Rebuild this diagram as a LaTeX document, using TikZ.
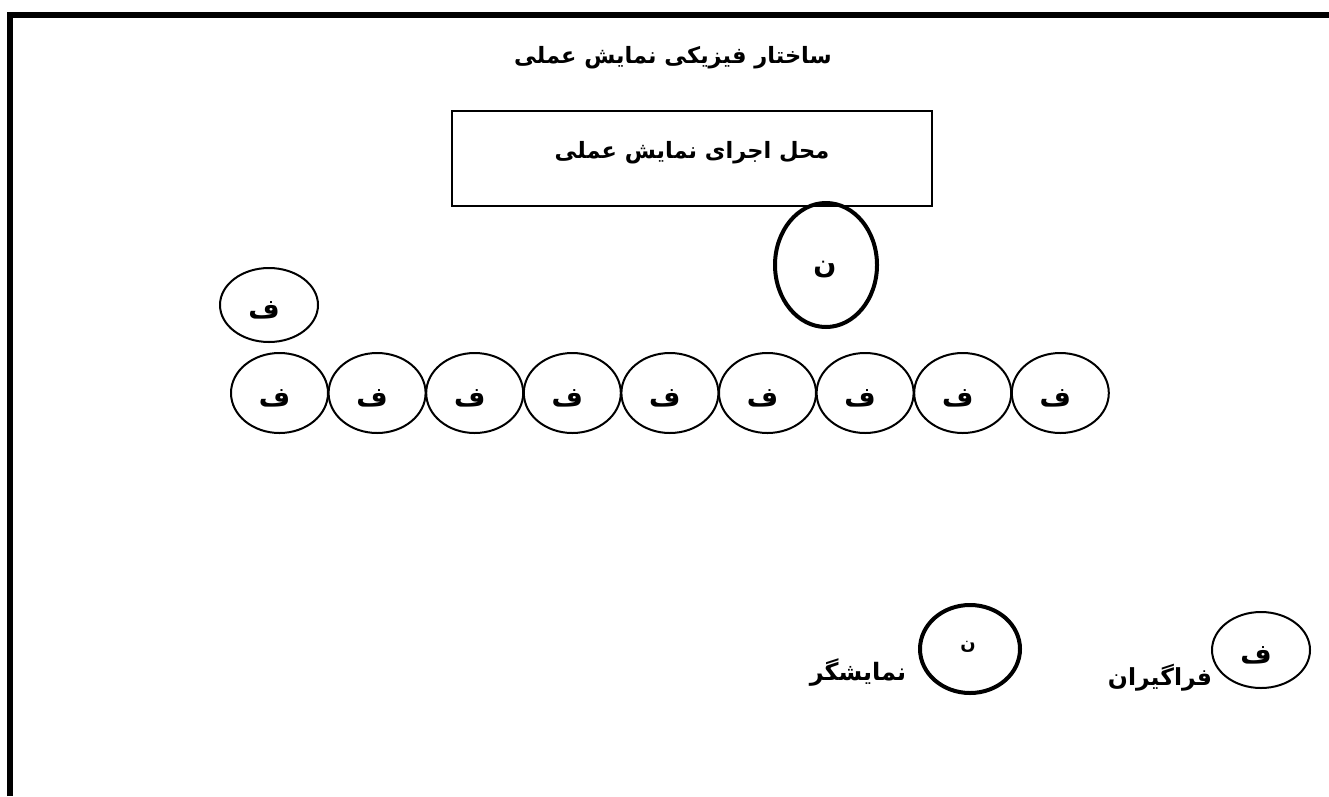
\documentclass[tikz,border=0pt]{standalone}
\usepackage{fontspec}
\TeXXeTstate=1
\newfontfamily\arabicfont[Script=Arabic]{DejaVu Sans}
\usetikzlibrary{shapes.geometric}
\tikzset{
  fa/.style={font=\arabicfont\bfseries\fontsize{22.5}{27}\selectfont, inner sep=0pt},
  letter/.style={font=\arabicfont\bfseries\fontsize{27}{32}\selectfont, inner sep=0pt},
  pupil/.style={ellipse, draw, line width=2pt, minimum width=97pt, minimum height=80pt, inner sep=0pt},
  teacher/.style={ellipse, draw, line width=4pt, inner sep=0pt},
  frameline/.style={line width=6pt, line join=miter},
  stagebox/.style={draw, line width=1.3pt, minimum width=480pt, minimum height=95pt}
}
\begin{document}
\begin{tikzpicture}[x=1pt,y=-1pt]
\useasboundingbox (0,0) rectangle (1329,796);
\coordinate (fb) at (10,796);
\coordinate (fc) at (10,15);
\coordinate (fr) at (1329,15);
\draw[frameline] (fb) -- (fc) -- (fr);
\node[fa] (title) at (673,58) {\beginR ساختار فیزیکی نمایش عملی\endR};
\node[stagebox] (stage) at (692,158.5) {};
\node[fa] (stagetxt) at (692,153) {\beginR محل اجرای نمایش عملی\endR};
\node[teacher, minimum width=102pt, minimum height=124pt] (t1) at (826,265) {};
\node[letter] (t1l) at (825,270) {\beginR ن\endR};
\node[pupil, minimum width=98pt, minimum height=74pt] (p0) at (269,305) {};
\node[letter] (p0l) at (264,310) {\beginR ف\endR};
\foreach \i in {0,...,8} {
  \node[pupil] (r\i) at ({279.5+97.6*\i},393) {};
  \node[letter] (r\i l) at ({274.5+97.6*\i},398) {\beginR ف\endR};
}
\node[teacher, minimum width=100pt, minimum height=88pt] (t2) at (970,649) {};
\node[font=\arabicfont\bfseries\fontsize{18}{21}\selectfont, inner sep=0pt] (t2l) at (968,647) {\beginR ن\endR};
\node[fa, font=\arabicfont\bfseries\fontsize{24}{28}\selectfont] (tlabel) at (858,672) {\beginR نمایشگر\endR};
\node[pupil, minimum width=98pt, minimum height=76pt] (p1) at (1261,650) {};
\node[letter] (p1l) at (1256,655) {\beginR ف\endR};
\node[fa, font=\arabicfont\bfseries\fontsize{23.5}{28}\selectfont] (plabel) at (1160,678) {\beginR فراگیران\endR};
\end{tikzpicture}
\end{document}
